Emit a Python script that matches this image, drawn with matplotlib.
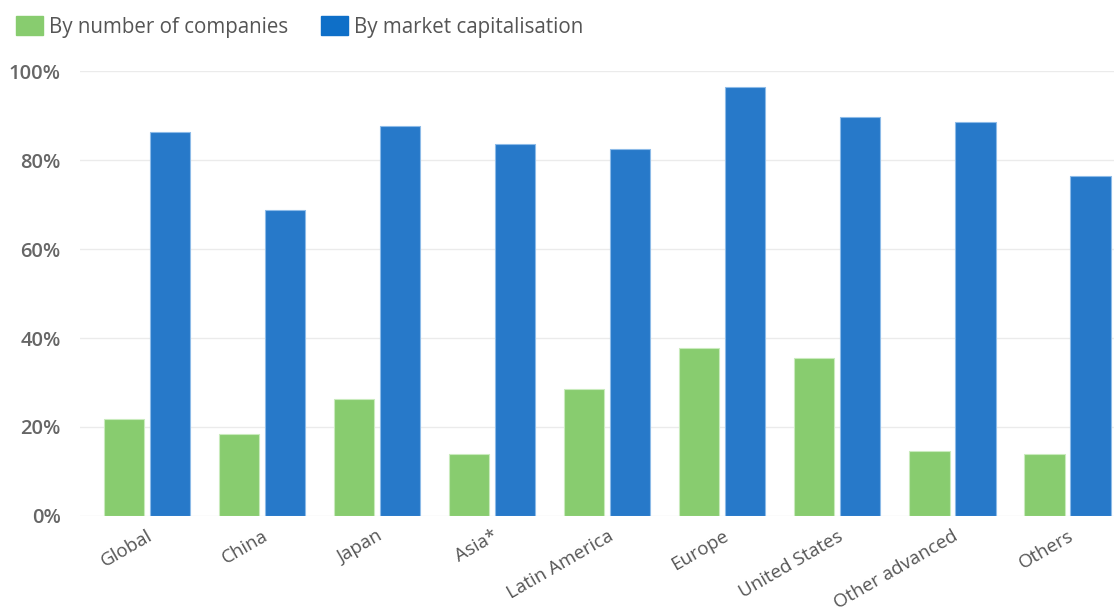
import matplotlib.pyplot as plt
import matplotlib.ticker as ticker
from matplotlib.patches import Patch
import numpy as np

plt.rcParams['font.family'] = ['Open Sans', 'DejaVu Sans']

# === Données ===
regions = ["Global", "China", "Japan", "Asia*", "Latin America", "Europe",
           "United States", "Other advanced", "Others"]
by_companies = [21.8, 18.4, 26.3, 13.9, 28.5, 37.8, 35.5, 14.6, 13.9]
by_market_cap = [86.3, 68.8, 87.6, 83.6, 82.5, 96.4, 89.7, 88.5, 76.4]

green = "#88cc6f"
blue = "#2779c9"

fig = plt.figure(figsize=(11.15, 6.15), dpi=100)
ax = fig.add_axes([0.0717, 0.161, 0.927, 0.7235])

x = np.arange(len(regions))
w = 0.35
ax.bar(x - 0.2, by_companies, width=w, color=green, edgecolor="#c9ebbd", linewidth=0.8, zorder=3)
ax.bar(x + 0.2, by_market_cap, width=w, color=blue, edgecolor="#8dbbe8", linewidth=0.8, zorder=3)

ax.set_xlim(-0.58, 8.4)
ax.set_ylim(0, 100)
ax.set_yticks([0, 20, 40, 60, 80, 100])
ax.yaxis.set_major_formatter(ticker.FuncFormatter(lambda v, _: f"{int(v)}%"))
ax.grid(axis="y", color="#ebebeb", linewidth=1, zorder=0)
for s in ax.spines.values():
    s.set_visible(False)
ax.tick_params(axis="both", length=0)
ax.tick_params(axis="y", pad=14, labelsize=14.5, labelcolor="#666666")
for lab in ax.get_yticklabels():
    lab.set_fontweight("semibold")

ax.set_xticks(x)
ax.set_xticklabels(regions, rotation=30, ha="right", rotation_mode="anchor",
                   fontsize=13.5, color="#555555")
ax.tick_params(axis="x", pad=8)

handles = [Patch(facecolor=green, edgecolor=green, label="By number of companies"),
           Patch(facecolor="#0e6fc8", edgecolor="#0e6fc8", label="By market capitalisation")]
leg = fig.legend(handles=handles, loc="upper left", bbox_to_anchor=(0.0, 1.0),
                 ncol=2, frameon=False, fontsize=14.8, handlelength=1.3, handleheight=1.0,
                 handletextpad=0.3, columnspacing=1.6, borderaxespad=0.4)
for t in leg.get_texts():
    t.set_color("#555555")

fig.savefig("out.png", dpi=100)
